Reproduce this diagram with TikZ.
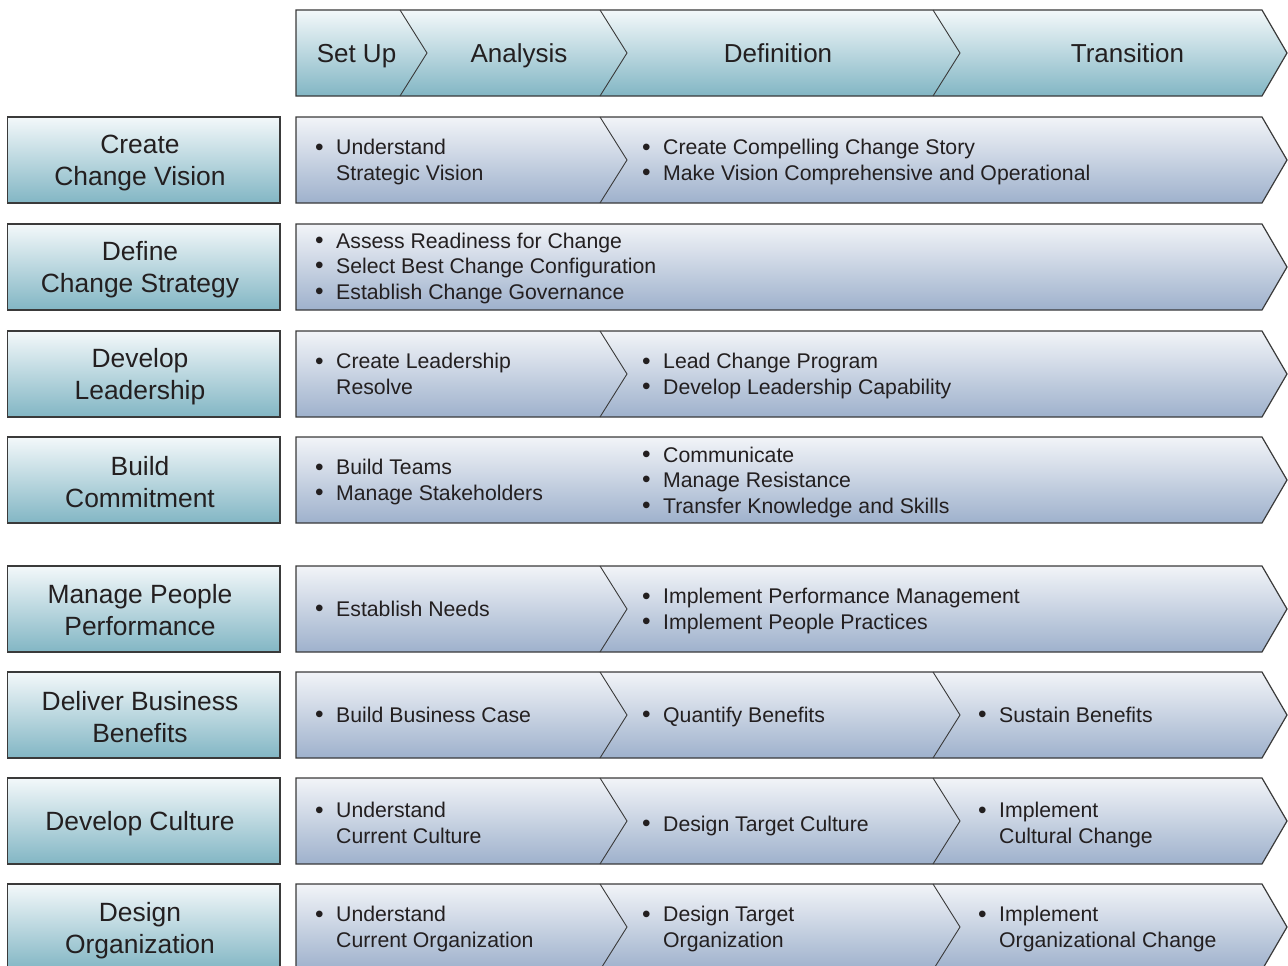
\documentclass[tikz,border=0pt]{standalone}
\usepackage{fontspec}
\setmainfont{Liberation Sans}
\definecolor{teallo}{RGB}{130,182,196}
\definecolor{tealhi}{RGB}{243,248,250}
\definecolor{barlo}{RGB}{158,177,204}
\definecolor{barhi}{RGB}{242,244,248}
\definecolor{edge}{RGB}{58,58,58}
\definecolor{ink}{RGB}{35,31,32}
\tikzset{
 tealfill/.style={top color=tealhi, bottom color=teallo, draw=edge, line width=1.2pt},
 barfill/.style={top color=barhi, bottom color=barlo, draw=edge, line width=1.2pt},
 divider/.style={draw=edge, line width=0.9pt},
 hdtext/.style={font=\fontsize{26}{30}\selectfont, text=ink, inner sep=0pt, anchor=base},
 lbtext/.style={font=\fontsize{26.4}{32}\selectfont, text=ink, inner sep=0pt, anchor=base},
 bltext/.style={font=\fontsize{21.25}{25.5}\selectfont, text=ink, inner sep=0pt, anchor=base west},
}
\newcommand\bul{\makebox[21pt][l]{\raisebox{-0.3pt}{\scalebox{1.15}{•}}}}
\newcommand\ind{\hspace*{21pt}}
\newcommand\rowbar[1]{\path[barfill] (296,#1-43) -- (1262,#1-43) -- (1287,#1) -- (1262,#1+43) -- (296,#1+43) -- cycle;}
\newcommand\divd[2]{\draw[divider] (#1,#2-43) -- (#1+27,#2) -- (#1,#2+43);}
\newcommand\lbox[1]{\path[tealfill] (7.5,#1-43) rectangle (280,#1+43);}
\begin{document}
\begin{tikzpicture}[x=1pt,y=-1pt]
\useasboundingbox (0,0) rectangle (1288,966);
% header
\path[tealfill] (296,10) -- (1262,10) -- (1287,53) -- (1262,96) -- (296,96) -- cycle;
\divd{400}{53}
\divd{600}{53}
\divd{933}{53}
\node[hdtext] (hsetup) at (356.5,62.5) {Set Up};
\node[hdtext] (hanal) at (519,62.5) {Analysis};
\node[hdtext] (hdef) at (778,62.5) {Definition};
\node[hdtext] (htrans) at (1127.5,62.5) {Transition};
% left boxes
\lbox{160}\lbox{267}\lbox{374}\lbox{480}\lbox{609}\lbox{715}\lbox{821}\lbox{927}
\node[lbtext] (l1a) at (140,153.3) {Create};
\node[lbtext] (l1b) at (140,185.3) {Change Vision};
\node[lbtext] (l2a) at (140,260.3) {Define};
\node[lbtext] (l2b) at (140,292.3) {Change Strategy};
\node[lbtext] (l3a) at (140,367.8) {Develop};
\node[lbtext] (l3b) at (140,399.8) {Leadership};
\node[lbtext] (l4a) at (140,475.3) {Build};
\node[lbtext] (l4b) at (140,507.3) {Commitment};
\node[lbtext] (l5a) at (140,603.3) {Manage People};
\node[lbtext] (l5b) at (140,635.3) {Performance};
\node[lbtext] (l6a) at (140,710.3) {Deliver Business};
\node[lbtext] (l6b) at (140,742.3) {Benefits};
\node[lbtext] (l7a) at (140,830.3) {Develop Culture};
\node[lbtext] (l8a) at (140,921.3) {Design};
\node[lbtext] (l8b) at (140,953.3) {Organization};
% bars
\rowbar{160}\rowbar{267}\rowbar{374}\rowbar{480}\rowbar{609}\rowbar{715}\rowbar{821}\rowbar{927}
\divd{600}{160}
\divd{600}{374}
\divd{600}{609}
\divd{600}{715}\divd{933}{715}
\divd{600}{821}\divd{933}{821}
\divd{600}{927}\divd{933}{927}
% row 1
\node[bltext] (r1a) at (315,154.75) {\bul Understand};
\node[bltext] (r1b) at (315,180.25) {\ind Strategic Vision};
\node[bltext] (r1c) at (642,154.75) {\bul Create Compelling Change Story};
\node[bltext] (r1d) at (642,180.25) {\bul Make Vision Comprehensive and Operational};
% row 2
\node[bltext] (r2a) at (315,248) {\bul Assess Readiness for Change};
\node[bltext] (r2b) at (315,273.5) {\bul Select Best Change Configuration};
\node[bltext] (r2c) at (315,299) {\bul Establish Change Governance};
% row 3
\node[bltext] (r3a) at (315,368.75) {\bul Create Leadership};
\node[bltext] (r3b) at (315,394.25) {\ind Resolve};
\node[bltext] (r3c) at (642,368.75) {\bul Lead Change Program};
\node[bltext] (r3d) at (642,394.25) {\bul Develop Leadership Capability};
% row 4
\node[bltext] (r4a) at (315,474.75) {\bul Build Teams};
\node[bltext] (r4b) at (315,500.25) {\bul Manage Stakeholders};
\node[bltext] (r4c) at (642,462) {\bul Communicate};
\node[bltext] (r4d) at (642,487.5) {\bul Manage Resistance};
\node[bltext] (r4e) at (642,513) {\bul Transfer Knowledge and Skills};
% row 5
\node[bltext] (r5a) at (315,616.5) {\bul Establish Needs};
\node[bltext] (r5b) at (642,603.75) {\bul Implement Performance Management};
\node[bltext] (r5c) at (642,629.25) {\bul Implement People Practices};
% row 6
\node[bltext] (r6a) at (315,722.5) {\bul Build Business Case};
\node[bltext] (r6b) at (642,722.5) {\bul Quantify Benefits};
\node[bltext] (r6c) at (978,722.5) {\bul Sustain Benefits};
% row 7
\node[bltext] (r7a) at (315,817.75) {\bul Understand};
\node[bltext] (r7b) at (315,843.25) {\ind Current Culture};
\node[bltext] (r7c) at (642,831.5) {\bul Design Target Culture};
\node[bltext] (r7d) at (978,817.75) {\bul Implement};
\node[bltext] (r7e) at (978,843.25) {\ind Cultural Change};
% row 8
\node[bltext] (r8a) at (315,921.75) {\bul Understand};
\node[bltext] (r8b) at (315,947.25) {\ind Current Organization};
\node[bltext] (r8c) at (642,921.75) {\bul Design Target};
\node[bltext] (r8d) at (642,947.25) {\ind Organization};
\node[bltext] (r8e) at (978,921.75) {\bul Implement};
\node[bltext] (r8f) at (978,947.25) {\ind Organizational Change};
\end{tikzpicture}
\end{document}
